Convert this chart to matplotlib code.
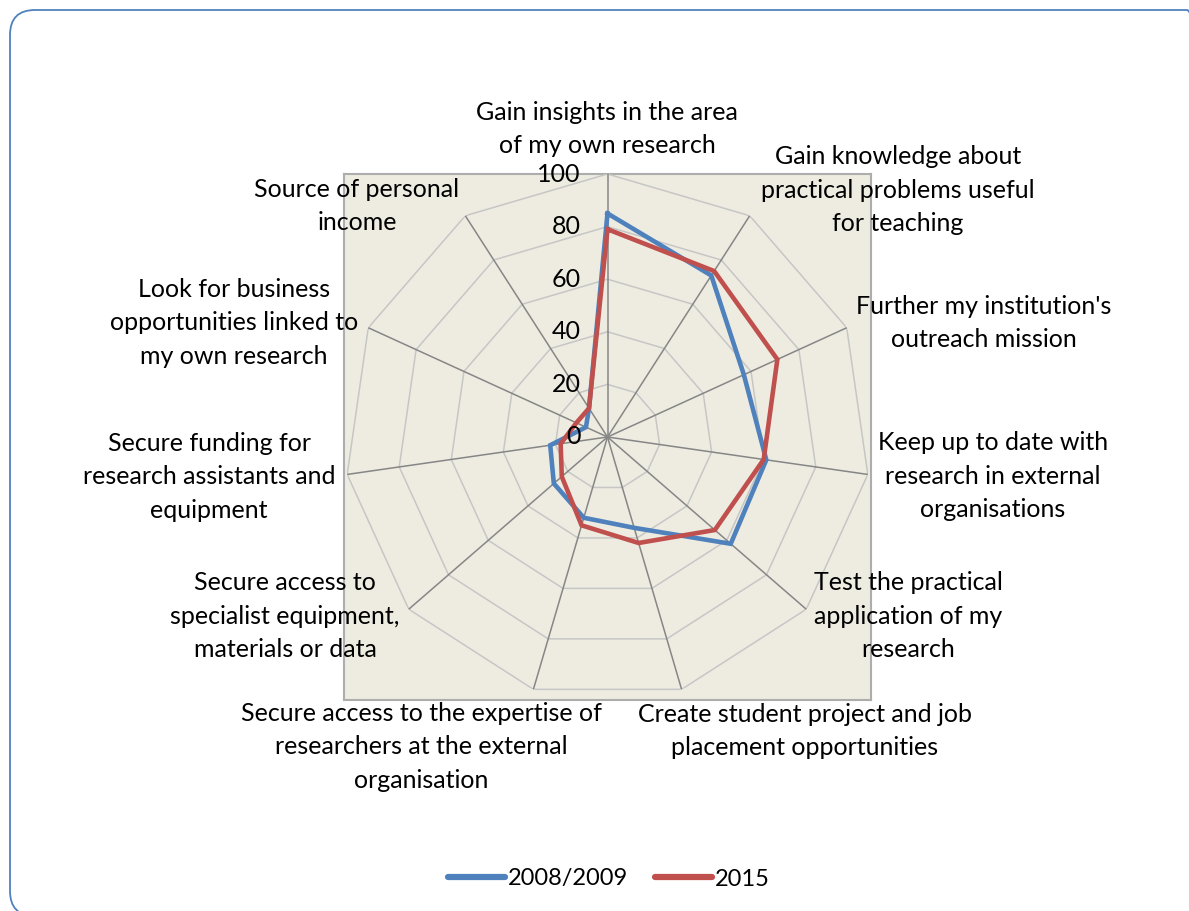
import numpy as np
import matplotlib
matplotlib.use("Agg")
import matplotlib.pyplot as plt
from matplotlib.lines import Line2D
from matplotlib.patches import FancyBboxPatch

plt.rcParams["font.family"] = ["Lato", "DejaVu Sans"]

# categories, clockwise from the top
categories = [
    "Gain insights in the area\nof my own research",
    "Gain knowledge about\npractical problems useful\nfor teaching",
    "Further my institution's\noutreach mission",
    "Keep up to date with\nresearch in external\norganisations",
    "Test the practical\napplication of my\nresearch",
    "Create student project and job\nplacement opportunities",
    "Secure access to the expertise of\nresearchers at the external\norganisation",
    "Secure access to\nspecialist equipment,\nmaterials or data",
    "Secure funding for\nresearch assistants and\nequipment",
    "Look for business\nopportunities linked to\nmy own research",
    "Source of personal\nincome",
]
values_2008 = [85, 73, 57, 61, 62, 36, 32, 27, 22, 9, 13]
values_2015 = [79, 75, 71, 60, 54, 42, 35, 23, 18, 13, 13]
series_names = ["2008/2009", "2015"]
radial_ticks = [0, 20, 40, 60, 80, 100]

BLUE = "#4F81BD"
RED = "#C0504D"
FS = 18

W, H = 1189, 911
fig = plt.figure(figsize=(W / 100, H / 100), dpi=100)

# label block centres in pixels (layout only)
label_pos = [(607, 129), (898, 190), (984, 323), (993, 476), (908, 616),
             (805, 731), (421, 747), (285, 616), (209, 477), (234, 323),
             (357, 206)]

# outer rounded frame, runs off the right and bottom edges
x0, x1, y_top, y_bot = 10, 1212, 10, 916
frame = FancyBboxPatch((x0 / W, 1 - y_bot / H), (x1 - x0) / W, (y_bot - y_top) / H,
                       boxstyle="round,pad=0,rounding_size=%f" % (25 / W),
                       mutation_aspect=W / H,
                       transform=fig.transFigure, facecolor="none",
                       edgecolor=BLUE, lw=1.3)
fig.add_artist(frame)

rect = [344 / W, 1 - 700 / H, 527 / W, 526 / H]
bg = fig.add_axes(rect, zorder=0)
bg.set_facecolor("#EEECE1")
bg.set_xticks([])
bg.set_yticks([])
for s in bg.spines.values():
    s.set_color("#ADADAD")
    s.set_linewidth(1.5)

ax = fig.add_axes(rect, projection="polar", zorder=1)
ax.patch.set_alpha(0)
ax.set_theta_zero_location("N")
ax.set_theta_direction(-1)
ax.set_ylim(0, 100)
ax.grid(False)
ax.set_xticks([])
ax.set_yticks([])
ax.spines["polar"].set_visible(False)

n = len(categories)
theta = np.arange(n) * 2 * np.pi / n
theta_c = np.append(theta, theta[0])

for r in radial_ticks[1:]:
    ax.plot(theta_c, [r] * (n + 1), color="#C6C6C6", lw=1.1, zorder=1)
for t in theta:
    ax.plot([t, t], [0, 100], color="#868686", lw=1.1, zorder=2)

for vals, col in [(values_2008, BLUE), (values_2015, RED)]:
    ax.plot(theta_c, vals + vals[:1], color=col, lw=3.3,
            solid_joinstyle="miter", zorder=3)

for r in radial_ticks:
    ax.annotate(str(r), xy=(0, r), xytext=(-19.5, 0),
                textcoords="offset points", ha="right", va="center",
                fontsize=FS, zorder=4)

for lab, (x, y) in zip(categories, label_pos):
    fig.text(x / W, 1 - y / H, lab, ha="center", va="center",
             fontsize=FS, linespacing=1.55)

handles = [Line2D([], [], color=c, lw=4.5, solid_capstyle="round")
           for c in (BLUE, RED)]
fig.legend(handles, series_names, loc="center", ncol=2, frameon=False,
           bbox_to_anchor=(609 / W, 1 - 879 / H), fontsize=17,
           handlelength=2.4, handletextpad=0.13, columnspacing=1.15)

fig.savefig("out.png", dpi=100)
